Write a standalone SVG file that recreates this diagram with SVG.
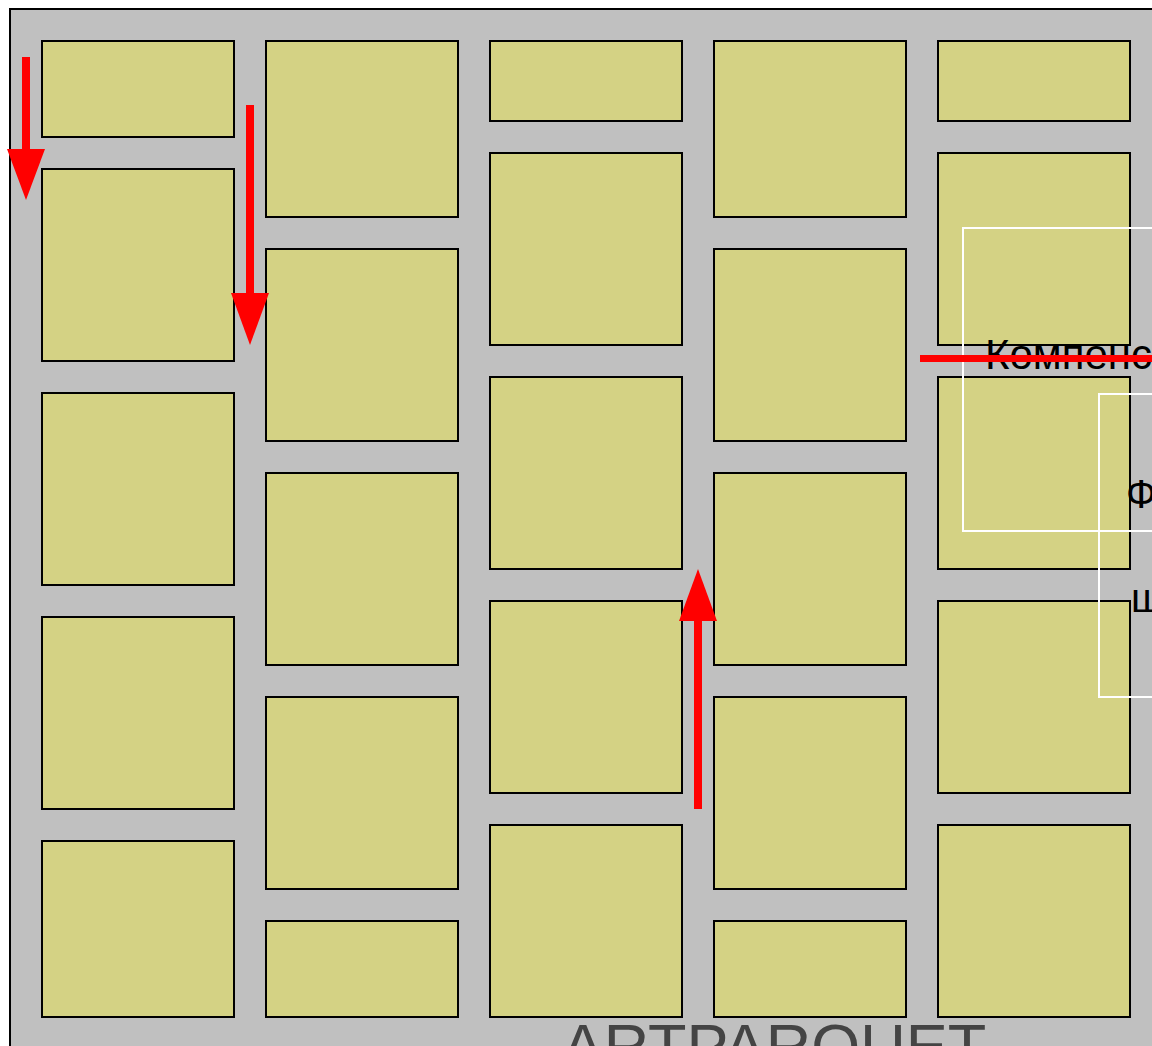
<svg xmlns="http://www.w3.org/2000/svg" width="1152" height="1046" viewBox="0 0 1152 1046">
<style>
.t{fill:#d4d284;stroke:#000;stroke-width:2}
.w{fill:none;stroke:#fff;stroke-width:2}
.lbl{font-family:"Liberation Sans",Arial,sans-serif;fill:#000}
</style>
<rect width="1152" height="1046" fill="#fff"/>
<rect x="10" y="9" width="1160" height="1060" fill="#c0c0c0" stroke="#000" stroke-width="2"/>
<g id="tiles">
<g id="c1">
<rect class="t" x="42" y="41" width="192" height="96"/>
<rect class="t" x="42" y="169" width="192" height="192"/>
<rect class="t" x="42" y="393" width="192" height="192"/>
<rect class="t" x="42" y="617" width="192" height="192"/>
<rect class="t" x="42" y="841" width="192" height="176"/>
</g>
<g id="c2">
<rect class="t" x="266" y="41" width="192" height="176"/>
<rect class="t" x="266" y="249" width="192" height="192"/>
<rect class="t" x="266" y="473" width="192" height="192"/>
<rect class="t" x="266" y="697" width="192" height="192"/>
<rect class="t" x="266" y="921" width="192" height="96"/>
</g>
<g id="c3">
<rect class="t" x="490" y="41" width="192" height="80"/>
<rect class="t" x="490" y="153" width="192" height="192"/>
<rect class="t" x="490" y="377" width="192" height="192"/>
<rect class="t" x="490" y="601" width="192" height="192"/>
<rect class="t" x="490" y="825" width="192" height="192"/>
</g>
<g id="c4">
<rect class="t" x="714" y="41" width="192" height="176"/>
<rect class="t" x="714" y="249" width="192" height="192"/>
<rect class="t" x="714" y="473" width="192" height="192"/>
<rect class="t" x="714" y="697" width="192" height="192"/>
<rect class="t" x="714" y="921" width="192" height="96"/>
</g>
<g id="c5">
<rect class="t" x="938" y="41" width="192" height="80"/>
<rect class="t" x="938" y="153" width="192" height="192"/>
<rect class="t" x="938" y="377" width="192" height="192"/>
<rect class="t" x="938" y="601" width="192" height="192"/>
<rect class="t" x="938" y="825" width="192" height="192"/>
</g>
</g>
<g id="labels">
<rect class="w" x="963" y="228" width="200" height="303"/>
<rect class="w" x="1099" y="394" width="80" height="303"/>
<text class="lbl" x="985" y="369" font-size="42">Компенс</text>
<text class="lbl" x="1126" y="508" font-size="40">Ф</text>
<text class="lbl" x="1131" y="612" font-size="40">ш</text>
</g>
<g id="connectors" fill="#f00" stroke="none">
<rect x="22" y="57" width="8" height="94"/>
<polygon points="7,149 45,149 26,200"/>
<rect x="246" y="105" width="8" height="190"/>
<polygon points="231,293 269,293 250,345"/>
<rect x="694" y="618" width="8" height="191"/>
<polygon points="679,621 717,621 698,569"/>
<rect x="920" y="355" width="240" height="7"/>
</g>
<text x="774" y="1068" font-family="'Liberation Sans',Arial,sans-serif" font-size="63" fill="#444" text-anchor="middle">ARTPARQUET</text>
</svg>
